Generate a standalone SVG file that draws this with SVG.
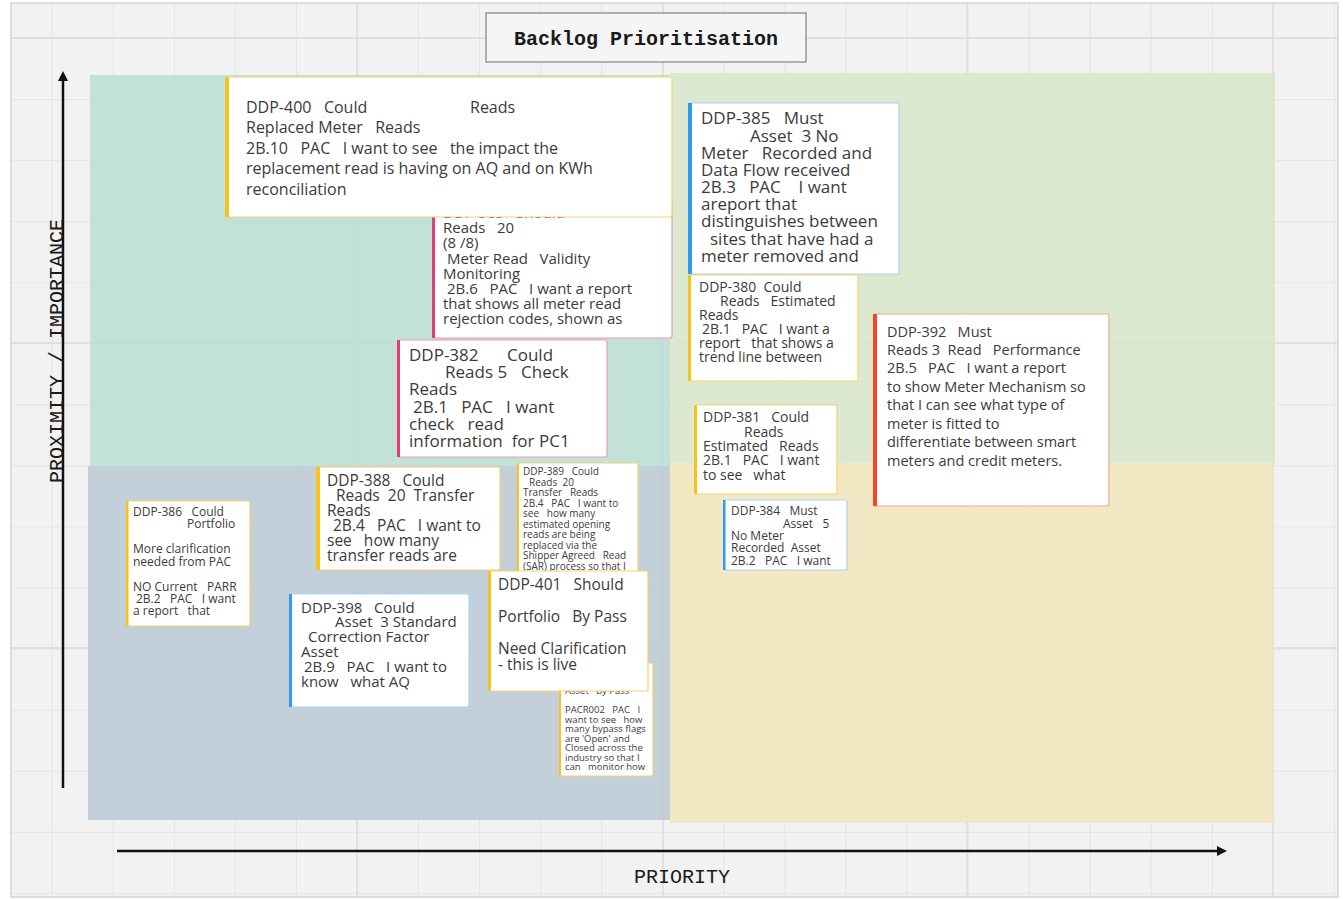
<svg xmlns="http://www.w3.org/2000/svg" width="1343" height="899" viewBox="0 0 1343 899">
<defs>
<style>
.t{font-family:"Open Sans","Noto Sans","Liberation Sans",sans-serif;fill:#3b3b3b;white-space:pre}
.m{font-family:"Liberation Mono","DejaVu Sans Mono",monospace;fill:#1a1a1a;white-space:pre}
.cw{fill:#ffffff}
.y{stroke:#f6d36a;stroke-width:1.2}
.p{stroke:#f09ab8;stroke-width:1.2}
.b{stroke:#a9d3f4;stroke-width:1.2}
.r{stroke:#f4a394;stroke-width:1.2}
.yb{fill:#f7c21b}
.pb{fill:#e23d7a}
.bb{fill:#2f9bef}
.rb{fill:#f0482a}
.ax{stroke:#111;stroke-width:2.5;fill:none}
</style>
<pattern id="grid" width="61.06" height="61.06" patternUnits="userSpaceOnUse" x="51.7" y="38">
<path d="M0.5 0V61.06M0 0.5H61.06" stroke="#e4e4e4" stroke-width="1" fill="none"/>
</pattern>
<marker id="ah" viewBox="0 0 10 10" refX="5" refY="5" markerWidth="4" markerHeight="4" orient="auto">
<path d="M0 0L10 5L0 10Z" fill="#111"/>
</marker>
</defs>
<rect x="0" y="0" width="1343" height="899" fill="#ffffff"/>
<rect x="11" y="3" width="1327" height="894" fill="#f2f2f2" stroke="#d4d4d4" stroke-width="1.5"/>
<rect x="12" y="4" width="1325" height="892" fill="url(#grid)"/>
<path d="M357 4V896M663 4V896M967 4V896M1273 4V896M12 38H1337M12 343H1337M12 648H1337" stroke="#dadada" stroke-width="1.3" fill="none"/>

<g id="quadrants">
<rect x="90" y="75" width="580" height="391" fill="#badfd5" fill-opacity="0.85"/>
<rect x="670" y="73" width="605" height="390" fill="#d8e7ca" fill-opacity="0.85"/>
<rect x="88" y="466" width="582" height="354" fill="#bbcad6" fill-opacity="0.85"/>
<rect x="670" y="463" width="603" height="360" fill="#f2e6bc" fill-opacity="0.85"/>
</g>

<g id="title">
<rect x="486" y="13" width="320" height="49" fill="#f5f5f5" stroke="#8a8a8a" stroke-width="1.3"/>
<text class="m" x="646" y="45" font-size="20" font-weight="bold" text-anchor="middle">Backlog Prioritisation</text>
</g>

<g id="connectors">
<line class="ax" x1="63" y1="788" x2="63" y2="76" marker-end="url(#ah)"/>
<line class="ax" x1="117" y1="851" x2="1222" y2="851" marker-end="url(#ah)"/>
</g>

<g id="axis-labels">
<text class="m" x="682" y="883" font-size="20" text-anchor="middle" fill="#222">PRIORITY</text>
<text class="m" transform="translate(63 351) rotate(-90)" font-size="20" text-anchor="middle" fill="#222">PROXIMITY / IMPORTANCE</text>
</g>

<g id="DDP-383">
<rect class="cw p" x="433" y="200" width="239" height="138" rx="2"/>
<rect class="pb" x="432" y="200" width="3" height="138"/>
<text class="t" font-size="15"><tspan x="443" y="218">DDP-383   Should</tspan><tspan x="443" y="233">Reads   20</tspan><tspan x="443" y="248">(8 /8)</tspan><tspan x="447" y="264">Meter Read   Validity</tspan><tspan x="443" y="279">Monitoring</tspan><tspan x="447" y="294">2B.6   PAC   I want a report</tspan><tspan x="443" y="309">that shows all meter read</tspan><tspan x="443" y="324">rejection codes, shown as</tspan></text>
</g>

<g id="DDP-400">
<rect class="cw y" x="226" y="77" width="446" height="140" rx="2"/>
<rect class="yb" x="225" y="77" width="4" height="140"/>
<text class="t" font-size="16"><tspan x="246" y="113">DDP-400   Could</tspan><tspan x="470" y="113">Reads</tspan><tspan x="246" y="133">Replaced Meter   Reads</tspan><tspan x="246" y="154">2B.10   PAC   I want to see   the impact the</tspan><tspan x="246" y="174">replacement read is having on AQ and on KWh</tspan><tspan x="246" y="195">reconciliation</tspan></text>
</g>

<g id="DDP-382">
<rect class="cw p" x="398" y="340" width="209" height="117" rx="2"/>
<rect class="pb" x="397" y="340" width="3" height="117"/>
<text class="t" font-size="17"><tspan x="409" y="361">DDP-382</tspan><tspan x="507" y="361">Could</tspan><tspan x="445" y="378">Reads 5</tspan><tspan x="521" y="378">Check</tspan><tspan x="409" y="395">Reads</tspan><tspan x="413" y="413">2B.1   PAC   I want</tspan><tspan x="409" y="430">check   read</tspan><tspan x="409" y="447">information  for PC1</tspan></text>
</g>

<g id="DDP-385">
<rect class="cw b" x="689" y="103" width="210" height="171" rx="2"/>
<rect class="bb" x="688" y="103" width="4" height="171"/>
<text class="t" font-size="17"><tspan x="701" y="124">DDP-385   Must</tspan><tspan x="750" y="142">Asset  3 No</tspan><tspan x="701" y="159">Meter   Recorded and</tspan><tspan x="701" y="176">Data Flow received</tspan><tspan x="701" y="193">2B.3   PAC    I want</tspan><tspan x="701" y="210">areport that</tspan><tspan x="701" y="227">distinguishes between</tspan><tspan x="710" y="245">sites that have had a</tspan><tspan x="701" y="262">meter removed and</tspan></text>
</g>

<g id="DDP-380">
<rect class="cw y" x="689" y="275" width="169" height="106" rx="2"/>
<rect class="yb" x="688" y="275" width="3" height="106"/>
<text class="t" font-size="14"><tspan x="699" y="292">DDP-380  Could</tspan><tspan x="720" y="306">Reads   Estimated</tspan><tspan x="699" y="320">Reads</tspan><tspan x="702" y="334">2B.1   PAC   I want a</tspan><tspan x="699" y="348">report   that shows a</tspan><tspan x="699" y="362">trend line between</tspan></text>
</g>

<g id="DDP-381">
<rect class="cw y" x="695" y="405" width="142" height="89" rx="2"/>
<rect class="yb" x="694" y="405" width="3" height="89"/>
<text class="t" font-size="14"><tspan x="703" y="422">DDP-381   Could</tspan><tspan x="744" y="437">Reads</tspan><tspan x="703" y="451">Estimated   Reads</tspan><tspan x="703" y="465">2B.1   PAC   I want</tspan><tspan x="703" y="480">to see   what</tspan></text>
</g>

<g id="DDP-384">
<rect class="cw b" x="724" y="500" width="123" height="70" rx="2"/>
<rect class="bb" x="723" y="500" width="2.5" height="70"/>
<text class="t" font-size="12"><tspan x="731" y="515">DDP-384   Must</tspan><tspan x="783" y="528">Asset   5</tspan><tspan x="731" y="540">No Meter</tspan><tspan x="731" y="552">Recorded  Asset</tspan><tspan x="731" y="565">2B.2   PAC   I want</tspan></text>
</g>

<g id="DDP-392">
<rect class="cw r" x="874" y="314" width="235" height="192" rx="2"/>
<rect class="rb" x="873" y="314" width="4" height="192"/>
<text class="t" font-size="14.5"><tspan x="887" y="337">DDP-392   Must</tspan><tspan x="887" y="355">Reads 3  Read   Performance</tspan><tspan x="887" y="373">2B.5   PAC   I want a report</tspan><tspan x="887" y="392">to show Meter Mechanism so</tspan><tspan x="887" y="410">that I can see what type of</tspan><tspan x="887" y="429">meter is fitted to</tspan><tspan x="887" y="447">differentiate between smart</tspan><tspan x="887" y="466">meters and credit meters.</tspan></text>
</g>

<g id="DDP-388">
<rect class="cw y" x="318" y="467" width="182" height="103" rx="2"/>
<rect class="yb" x="316" y="467" width="4" height="103"/>
<text class="t" font-size="15.5"><tspan x="327" y="486">DDP-388   Could</tspan><tspan x="336" y="501">Reads  20  Transfer</tspan><tspan x="327" y="516">Reads</tspan><tspan x="333" y="531">2B.4   PAC   I want to</tspan><tspan x="327" y="546">see   how many</tspan><tspan x="327" y="561">transfer reads are</tspan></text>
</g>

<g id="DDP-389">
<rect class="cw y" x="518" y="463" width="120" height="112" rx="2"/>
<rect class="yb" x="517" y="463" width="2" height="112"/>
<text class="t" font-size="10"><tspan x="523" y="474.5">DDP-389   Could</tspan><tspan x="529" y="485.5">Reads  20</tspan><tspan x="523" y="496">Transfer   Reads</tspan><tspan x="523" y="506.5">2B.4   PAC   I want to</tspan><tspan x="523" y="517">see   how many</tspan><tspan x="523" y="527.5">estimated opening</tspan><tspan x="523" y="538">reads are being</tspan><tspan x="523" y="548.5">replaced via the</tspan><tspan x="523" y="559">Shipper Agreed   Read</tspan><tspan x="523" y="569.5">(SAR) process so that I</tspan></text>
</g>

<g id="PACR002">
<rect class="cw y" x="560" y="663" width="93" height="113" rx="2"/>
<rect class="yb" x="559" y="663" width="2" height="113"/>
<text class="t" font-size="9.5"><tspan x="565" y="694">Asset   by Pass</tspan><tspan x="565" y="713">PACR002   PAC   I</tspan><tspan x="565" y="722.5">want to see   how</tspan><tspan x="565" y="732">many bypass flags</tspan><tspan x="565" y="741.5">are 'Open' and</tspan><tspan x="565" y="751">Closed across the</tspan><tspan x="565" y="760.5">industry so that I</tspan><tspan x="565" y="770">can   monitor how</tspan></text>
</g>

<g id="DDP-401">
<rect class="cw y" x="489" y="571" width="159" height="120" rx="2"/>
<rect class="yb" x="488" y="571" width="3" height="120"/>
<text class="t" font-size="15.5"><tspan x="498" y="589.5">DDP-401   Should</tspan><tspan x="498" y="621.5">Portfolio   By Pass</tspan><tspan x="498" y="653.5">Need Clarification</tspan><tspan x="498" y="669.5">- this is live</tspan></text>
</g>

<g id="DDP-386">
<rect class="cw y" x="127" y="501" width="123" height="125" rx="2"/>
<rect class="yb" x="126" y="501" width="2.5" height="125"/>
<text class="t" font-size="12"><tspan x="133" y="516">DDP-386   Could</tspan><tspan x="187" y="528">Portfolio</tspan><tspan x="133" y="553">More clarification</tspan><tspan x="133" y="566">needed from PAC</tspan><tspan x="133" y="591">NO Current   PARR</tspan><tspan x="136" y="603">2B.2   PAC   I want</tspan><tspan x="133" y="615">a report   that</tspan></text>
</g>

<g id="DDP-398">
<rect class="cw b" x="290" y="594" width="179" height="113" rx="2"/>
<rect class="bb" x="289" y="594" width="3" height="113"/>
<text class="t" font-size="15"><tspan x="301" y="613">DDP-398   Could</tspan><tspan x="335" y="627">Asset  3 Standard</tspan><tspan x="308" y="642">Correction Factor</tspan><tspan x="301" y="657">Asset</tspan><tspan x="304" y="672">2B.9   PAC   I want to</tspan><tspan x="301" y="687">know   what AQ</tspan></text>
</g>
</svg>
